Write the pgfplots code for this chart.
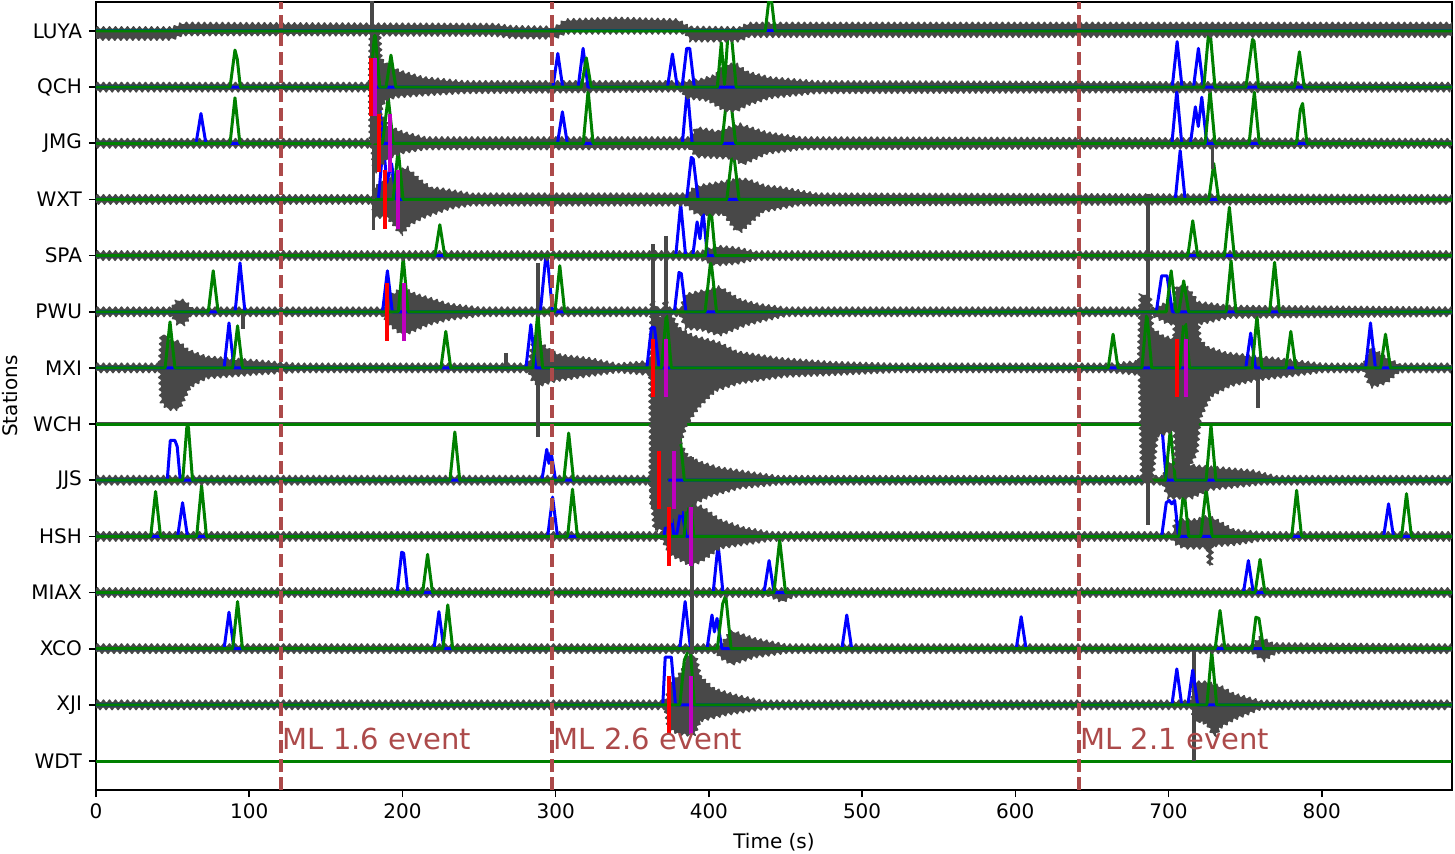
\documentclass[border=0pt]{standalone}
\usepackage{fontspec}
\setmainfont{DejaVu Sans}
\usepackage{pgfplots}
\pgfplotsset{compat=1.18}
\usetikzlibrary{decorations.pathmorphing}
\pgfplotsset{table/row sep=\\}
\definecolor{evt}{RGB}{172,74,74}
\definecolor{pgreen}{RGB}{0,128,0}
\definecolor{pmag}{RGB}{191,0,191}
\definecolor{tgray}{RGB}{72,72,72}

% one seismogram envelope (upper edge left to right, lower edge right to left), shifted to its station row;
% the zigzag outline gives the edges the ragged look of the raw samples
\newcommand\Trace[2]{\addplot[draw=none, fill=tgray,
  postaction={draw=tgray, line width=0.7pt, decorate, decoration={zigzag, segment length=3pt, amplitude=1pt}}]
  table[y expr=\thisrow{v}+#1] {t v\\ #2};}
% a single large excursion of a trace: time, highest and lowest value
\newcommand\Spike[3]{\addplot[tgray, line width=1.7pt] coordinates {(#1,#2) (#1,#3)};}
% P (blue) and S (green) phase probabilities of a station
\newcommand\Ppick[2]{\addplot[blue] table[y expr=\thisrow{v}+#1] {t v\\ #2};}
\newcommand\Spick[2]{\addplot[pgreen] table[y expr=\thisrow{v}+#1] {t v\\ #2};}

\begin{document}
\begin{tikzpicture}
\begin{axis}[
  scale only axis, width=678pt, height=394pt,
  xmin=0, xmax=885, ymin=-0.516, ymax=13.516,
  xtick={0,100,...,800},
  ytick={0,...,13},
  yticklabels={WDT,XJI,XCO,MIAX,HSH,JJS,WCH,MXI,PWU,SPA,WXT,JMG,QCH,LUYA},
  xlabel={Time (s)}, ylabel={Stations},
  tick align=outside, tick pos=left, major tick length=3.5pt,
  tick style={line width=0.8pt, black},
  axis line style={line width=0.8pt},
  /pgf/number format/assume math mode=true,
  ticklabel style={font=\fontsize{10}{12}\selectfont},
  label style={font=\fontsize{10}{12}\selectfont},
  every axis plot/.append style={line width=1.5pt, line join=round},
]
\coordinate (bl) at (rel axis cs:0,0);
\coordinate (tr) at (rel axis cs:1,1);

% ---- WDT (0)
\Ppick{0}{0 0\\ 885 0\\}
\Spick{0}{0 0\\ 885 0\\}

% ---- XJI (1)
\Trace{1}{0 0.05\\ 372 0.05\\ 375 0.33\\ 383 0.6\\ 386 0.86\\ 391 0.86\\ 394 0.5\\ 403 0.27\\ 418 0.15\\ 435 0.05\\ 715.5 0.05\\ 717.5 0.39\\ 725 0.39\\ 735 0.3\\ 742 0.18\\ 760 0.05\\ 885 0.05\\
885 -0.05\\ 760 -0.05\\ 742 -0.25\\ 733 -0.4\\ 730 -0.56\\ 726 -0.35\\ 721 -0.27\\ 717.5 -0.3\\ 715.5 -0.05\\ 435 -0.05\\ 412 -0.15\\ 394 -0.27\\ 390 -0.53\\ 380 -0.5\\ 374 -0.4\\ 372 -0.05\\ 0 -0.05\\}
\Spike{716.5}{1.98}{0.0}
\Ppick{1}{0 0\\ 369.9 0\\ 371.5 0.85\\ 375.5 0.85\\ 378.2 0\\ 702.2 0\\ 705.4 0.64\\ 708.6 0\\ 712.6 0\\ 715.8 0.62\\ 719 0\\ 885 0\\}
\Spick{1}{0 0\\ 381 0\\ 384 0.8\\ 386.4 0.95\\ 388 0.95\\ 390.5 0\\ 725 0\\ 728.2 0.95\\ 731.4 0\\ 885 0\\}

% ---- XCO (2)
\Trace{2}{0 0.05\\ 408 0.05\\ 412 0.2\\ 415 0.31\\ 420 0.25\\ 430 0.16\\ 450 0.05\\ 755 0.05\\ 760 0.19\\ 768 0.07\\ 885 0.05\\
885 -0.05\\ 770 -0.05\\ 762 -0.2\\ 755 -0.05\\ 450 -0.05\\ 430 -0.13\\ 415 -0.26\\ 408 -0.15\\ 405 -0.05\\ 0 -0.05\\}
\Ppick{2}{0 0\\ 83.6 0\\ 86.8 0.65\\ 90 0\\ 220.6 0\\ 223.8 0.66\\ 227 0\\ 381 0\\ 384.5 0.84\\ 388 0\\ 398.8 0\\ 402 0.6\\ 403.6 0.3\\ 405.3 0.54\\ 408.5 0\\ 486.8 0\\ 490 0.6\\ 493.2 0\\ 600.6 0\\ 603.8 0.57\\ 607 0\\ 885 0\\}
\Spick{2}{0 0\\ 89.2 0\\ 92.4 0.84\\ 95.6 0\\ 226.4 0\\ 229.6 0.78\\ 232.8 0\\ 405.5 0\\ 409 0.8\\ 411 0.95\\ 414.5 0\\ 730.4 0\\ 733.6 0.68\\ 736.8 0\\ 754.5 0\\ 757 0.56\\ 759 0.54\\ 762 0\\ 885 0\\}

% ---- MIAX (3)
\Trace{3}{0 0.05\\ 885 0.05\\ 885 -0.05\\ 455 -0.05\\ 448 -0.15\\ 440 -0.05\\ 0 -0.05\\}
\Ppick{3}{0 0\\ 196.5 0\\ 199.5 0.72\\ 200.8 0.7\\ 203.5 0\\ 402.8 0\\ 406 0.86\\ 409.2 0\\ 436 0\\ 439.3 0.57\\ 442.5 0\\ 748.9 0\\ 752.1 0.57\\ 755.3 0\\ 885 0\\}
\Spick{3}{0 0\\ 213.2 0\\ 216.4 0.68\\ 219.6 0\\ 442.5 0\\ 446.2 0.94\\ 450 0\\ 756.5 0\\ 759.7 0.59\\ 762.9 0\\ 885 0\\}

% ---- HSH (4)
\Trace{4}{0 0.05\\ 370 0.05\\ 372 0.46\\ 380 0.5\\ 388 0.55\\ 395 0.52\\ 407 0.28\\ 422 0.14\\ 440 0.05\\ 703 0.05\\ 705 0.28\\ 718 0.28\\ 725 0.34\\ 730 0.3\\ 742 0.1\\ 760 0.05\\ 885 0.05\\
885 -0.05\\ 760 -0.05\\ 742 -0.13\\ 728 -0.15\\ 727.5 -0.52\\ 726.5 -0.52\\ 726 -0.19\\ 710 -0.19\\ 705 -0.12\\ 703 -0.05\\ 440 -0.05\\ 407 -0.19\\ 395 -0.43\\ 388 -0.5\\ 375 -0.31\\ 370 -0.05\\ 0 -0.05\\}
\Spike{389}{5.41}{1.9}
\Ppick{4}{0 0\\ 53.3 0\\ 56.5 0.6\\ 59.7 0\\ 294.8 0\\ 298 0.7\\ 301.2 0\\ 370.8 0\\ 374 0.76\\ 377.2 0\\ 378.8 0\\ 382 0.52\\ 385.2 0\\ 695.5 0\\ 698.5 0.6\\ 700.5 0.64\\ 702 0.58\\ 704 0.64\\ 706.5 0\\ 840.4 0\\ 843.6 0.58\\ 846.8 0\\ 885 0\\}
\Spick{4}{0 0\\ 35.7 0\\ 38.9 0.8\\ 42.1 0\\ 65.7 0\\ 68.9 0.91\\ 72.1 0\\ 307.8 0\\ 311 0.84\\ 314.2 0\\ 383.8 0\\ 387 0.94\\ 390.2 0\\ 706.8 0\\ 710 0.85\\ 713.2 0\\ 721 0\\ 724.5 0.85\\ 728.5 0\\ 780.4 0\\ 783.6 0.82\\ 786.8 0\\ 852.1 0\\ 855.3 0.76\\ 858.5 0\\ 885 0\\}

% ---- JJS (5)
\Trace{5}{0 0.05\\ 362 0.05\\ 363 0.95\\ 375 0.95\\ 380 0.7\\ 386 0.41\\ 395 0.3\\ 406 0.21\\ 427 0.12\\ 445 0.05\\ 697 0.05\\ 700 0.3\\ 710 0.3\\ 717 0.24\\ 735 0.2\\ 755 0.15\\ 770 0.05\\ 885 0.05\\
885 -0.05\\ 760 -0.05\\ 726 -0.15\\ 715 -0.3\\ 700 -0.3\\ 697 -0.05\\ 445 -0.05\\ 420 -0.12\\ 400 -0.27\\ 390 -0.41\\ 380 -0.6\\ 371 -0.83\\ 365 -0.9\\ 363 -0.3\\ 362 -0.05\\ 0 -0.05\\}
\Ppick{5}{0 0\\ 46.5 0\\ 48.5 0.71\\ 51.5 0.71\\ 53 0.6\\ 55 0\\ 291 0\\ 294.2 0.55\\ 295.6 0.3\\ 297 0.5\\ 300 0\\ 364.7 0\\ 367.9 0.75\\ 371.1 0\\ 686.5 0\\ 690 0.86\\ 692.5 0.92\\ 694 0.88\\ 695.8 0.92\\ 698.5 0\\ 885 0\\}
\Spick{5}{0 0\\ 56.6 0\\ 59.3 0.95\\ 60.3 0.95\\ 63 0\\ 231 0\\ 234.2 0.86\\ 237.4 0\\ 305.3 0\\ 308.5 0.84\\ 311.7 0\\ 372.5 0\\ 376 0.8\\ 378 0.98\\ 380.5 0.98\\ 384 0\\ 698 0\\ 701.2 0.92\\ 704.4 0\\ 724.5 0\\ 727.7 0.98\\ 730.9 0\\ 885 0\\}

% ---- WCH (6), a flat trace
\addplot[black!70, line width=2pt] coordinates {(0,6) (885,6)};
\Ppick{6}{0 0\\ 885 0\\}
\Spick{6}{0 0\\ 885 0\\}

% ---- MXI (7)
\Trace{7}{0 0.05\\ 42 0.05\\ 43 0.56\\ 47 0.5\\ 54 0.45\\ 60 0.3\\ 72 0.18\\ 105 0.11\\ 130 0.05\\ 283 0.05\\ 285 0.39\\ 289 0.45\\ 296 0.3\\ 303 0.21\\ 322 0.15\\ 340 0.05\\ 362 0.1\\ 363 1.2\\ 369 0.8\\ 371.5 1.2\\ 374 1.0\\ 380 0.7\\ 390 0.55\\ 407 0.43\\ 418 0.27\\ 446 0.15\\ 480 0.08\\ 520 0.05\\ 662 0.05\\ 681 0.1\\ 682 1.3\\ 687.5 1.3\\ 689 0.7\\ 696 0.55\\ 704 0.5\\ 705 1.45\\ 712 1.42\\ 718 1.2\\ 720 0.5\\ 725 0.36\\ 737 0.25\\ 760 0.18\\ 780 0.12\\ 800 0.05\\ 828 0.05\\ 832 0.35\\ 840 0.2\\ 850 0.05\\ 885 0.05\\
885 -0.05\\ 850 -0.05\\ 842 -0.25\\ 832 -0.33\\ 828 -0.05\\ 800 -0.05\\ 780 -0.12\\ 757 -0.2\\ 740 -0.3\\ 727 -0.5\\ 720 -0.9\\ 718 -1.5\\ 712 -1.82\\ 705 -1.82\\ 704 -1.1\\ 692 -1.2\\ 689 -2.0\\ 683 -2.0\\ 681.5 -0.1\\ 662 -0.05\\ 520 -0.05\\ 480 -0.1\\ 450 -0.13\\ 420 -0.25\\ 404 -0.39\\ 393 -0.69\\ 385 -1.0\\ 375 -1.8\\ 370 -2.2\\ 364 -2.5\\ 362.8 -2.5\\ 362 -0.1\\ 340 -0.05\\ 322 -0.12\\ 300 -0.21\\ 289 -0.3\\ 285 -0.2\\ 283 -0.05\\ 130 -0.05\\ 105 -0.09\\ 72 -0.16\\ 61 -0.33\\ 54 -0.72\\ 47 -0.72\\ 43 -0.6\\ 42 -0.05\\ 0 -0.05\\}
\Spike{267.5}{7.27}{6.95}
\Spike{288.6}{8.87}{5.77}
\Spike{363.4}{9.2}{4.5}
\Spike{372}{9.35}{6.5}
\Spike{686.5}{10.1}{4.2}
\Spike{758.5}{7.0}{6.28}
\Ppick{7}{0 0\\ 83.6 0\\ 86.8 0.8\\ 90 0\\ 280.6 0\\ 283.8 0.77\\ 287 0\\ 359.5 0\\ 362.5 0.72\\ 364.5 0.72\\ 367.5 0\\ 750.4 0\\ 753.6 0.62\\ 756.8 0\\ 828.6 0\\ 831.8 0.8\\ 835 0\\ 885 0\\}
\Spick{7}{0 0\\ 45.1 0\\ 48.3 0.82\\ 51.5 0\\ 89.2 0\\ 92.4 0.75\\ 95.6 0\\ 225.1 0\\ 228.3 0.65\\ 231.5 0\\ 285.1 0\\ 288.3 0.98\\ 291.5 0\\ 369.1 0\\ 372.3 0.98\\ 375.5 0\\ 660.6 0\\ 663.8 0.6\\ 667 0\\ 682.6 0\\ 685.8 0.98\\ 689 0\\ 707.3 0\\ 710.5 0.98\\ 713.7 0\\ 754.5 0\\ 757.7 0.92\\ 760.9 0\\ 776.6 0\\ 779.8 0.65\\ 783 0\\ 838.4 0\\ 841.6 0.6\\ 844.8 0\\ 885 0\\}

% ---- PWU (8)
\Trace{8}{0 0.05\\ 50 0.05\\ 53 0.2\\ 58 0.18\\ 62 0.05\\ 188 0.05\\ 191 0.25\\ 200 0.41\\ 208 0.3\\ 217 0.23\\ 230 0.12\\ 250 0.05\\ 382 0.05\\ 385 0.29\\ 395 0.35\\ 407 0.43\\ 420 0.2\\ 433 0.11\\ 450 0.05\\ 690 0.05\\ 700 0.15\\ 720 0.15\\ 740 0.08\\ 885 0.05\\
885 -0.05\\ 740 -0.08\\ 720 -0.2\\ 700 -0.2\\ 690 -0.05\\ 450 -0.05\\ 434 -0.15\\ 424 -0.22\\ 407 -0.4\\ 395 -0.3\\ 385 -0.28\\ 382 -0.05\\ 250 -0.05\\ 230 -0.12\\ 217 -0.21\\ 205 -0.35\\ 200 -0.4\\ 191 -0.2\\ 188 -0.05\\ 62 -0.05\\ 57 -0.22\\ 53 -0.2\\ 50 -0.05\\ 0 -0.05\\}
\Spike{96}{8.05}{7.7}
\Ppick{8}{0 0\\ 90.8 0\\ 94 0.87\\ 97.2 0\\ 187 0\\ 190.2 0.73\\ 193.4 0\\ 290 0\\ 293.5 0.97\\ 294.5 0.97\\ 298 0\\ 377.5 0\\ 380.5 0.7\\ 382 0.68\\ 385 0\\ 692 0\\ 695.5 0.64\\ 699 0.64\\ 702.5 0\\ 885 0\\}
\Spick{8}{0 0\\ 73.3 0\\ 76.5 0.73\\ 79.7 0\\ 197.3 0\\ 200.5 0.97\\ 203.7 0\\ 299.5 0\\ 302.7 0.82\\ 305.9 0\\ 397.5 0\\ 401.3 0.94\\ 405 0\\ 698.5 0\\ 701.7 0.73\\ 704.9 0\\ 706.7 0\\ 709.9 0.55\\ 713.1 0\\ 737.6 0\\ 740.8 0.91\\ 744 0\\ 766 0\\ 769.2 0.88\\ 772.4 0\\ 885 0\\}

% ---- SPA (9)
\Trace{9}{0 0.05\\ 395 0.05\\ 405 0.15\\ 418 0.12\\ 430 0.05\\ 885 0.05\\ 885 -0.05\\ 430 -0.05\\ 418 -0.12\\ 405 -0.15\\ 395 -0.05\\ 0 -0.05\\}
\Ppick{9}{0 0\\ 378.4 0\\ 381.6 0.92\\ 384.8 0\\ 389.5 0\\ 392.3 0.6\\ 394.2 0.3\\ 396.2 0.8\\ 399 0\\ 885 0\\}
\Spick{9}{0 0\\ 221.2 0\\ 224.4 0.55\\ 227.6 0\\ 397.8 0\\ 401 0.95\\ 404.2 0\\ 712.6 0\\ 715.8 0.62\\ 719 0\\ 736.5 0\\ 739.7 0.86\\ 742.9 0\\ 885 0\\}

% ---- WXT (10)
\Trace{10}{0 0.05\\ 181 0.05\\ 182 0.2\\ 188 0.3\\ 197 0.5\\ 203 0.55\\ 211 0.34\\ 218 0.2\\ 228 0.16\\ 245 0.08\\ 385 0.08\\ 392 0.22\\ 410 0.3\\ 418 0.34\\ 425 0.34\\ 437 0.22\\ 446 0.2\\ 470 0.08\\ 885 0.05\\
885 -0.05\\ 470 -0.08\\ 458 -0.08\\ 435 -0.2\\ 421 -0.55\\ 418 -0.55\\ 410 -0.25\\ 392 -0.25\\ 385 -0.08\\ 245 -0.08\\ 231 -0.14\\ 213 -0.31\\ 204 -0.45\\ 199 -0.62\\ 195 -0.45\\ 190 -0.3\\ 182 -0.3\\ 181 -0.05\\ 0 -0.05\\}
\Spike{181}{10.9}{9.45}
\Ppick{10}{0 0\\ 184.3 0\\ 187.5 1.0\\ 189.8 0.3\\ 192.9 0.64\\ 196.1 0\\ 385.5 0\\ 388.5 0.75\\ 389.8 0.72\\ 393 0\\ 704.4 0\\ 707.6 0.87\\ 710.8 0\\ 885 0\\}
\Spick{10}{0 0\\ 194 0\\ 197.2 0.9\\ 200.4 0\\ 411.7 0\\ 415.7 0.93\\ 419.7 0\\ 726.3 0\\ 729.5 0.64\\ 732.7 0\\ 885 0\\}

% ---- JMG (11)
\Trace{11}{0 0.05\\ 180.5 0.05\\ 182 0.6\\ 186 0.5\\ 190 0.3\\ 200 0.18\\ 215 0.08\\ 388 0.08\\ 392 0.26\\ 405 0.2\\ 420 0.32\\ 438 0.17\\ 460 0.08\\ 885 0.05\\
885 -0.05\\ 460 -0.08\\ 438 -0.16\\ 422 -0.36\\ 416 -0.25\\ 392 -0.22\\ 388 -0.08\\ 215 -0.08\\ 200 -0.15\\ 190 -0.25\\ 182 -0.5\\ 180.5 -0.05\\ 0 -0.05\\}
\Spike{181}{12.0}{10.0}
\Spike{728.5}{11.05}{10.55}
\Ppick{11}{0 0\\ 65.3 0\\ 68.5 0.53\\ 71.7 0\\ 181 0\\ 184.2 0.92\\ 187.4 0\\ 301.2 0\\ 304.4 0.56\\ 307.6 0\\ 382.7 0\\ 385.9 0.98\\ 389.1 0\\ 702.2 0\\ 705.4 0.94\\ 708.6 0\\ 714.3 0\\ 717.5 0.65\\ 719.4 0.3\\ 721.7 0.82\\ 724.9 0\\ 885 0\\}
\Spick{11}{0 0\\ 87.5 0\\ 90.7 0.81\\ 93.9 0\\ 187 0\\ 190.7 0.82\\ 194 0\\ 318 0\\ 321.2 0.94\\ 324.4 0\\ 408.5 0\\ 412 0.9\\ 413.5 0.94\\ 417.5 0\\ 723.9 0\\ 727.1 0.94\\ 730.3 0\\ 752.6 0\\ 756 0.91\\ 759.2 0\\ 783.5 0\\ 786 0.6\\ 787.5 0.71\\ 790.3 0\\ 885 0\\}

% ---- QCH (12)
\Trace{12}{0 0.05\\ 179 0.05\\ 179.6 0.96\\ 184.5 0.96\\ 185.5 0.5\\ 188 0.42\\ 198 0.27\\ 214 0.15\\ 240 0.08\\ 383 0.08\\ 395 0.12\\ 405 0.2\\ 410 0.39\\ 418 0.39\\ 425 0.25\\ 440 0.15\\ 470 0.08\\ 885 0.05\\
885 -0.05\\ 470 -0.08\\ 440 -0.17\\ 425 -0.3\\ 418 -0.41\\ 410 -0.4\\ 400 -0.22\\ 385 -0.17\\ 383 -0.05\\ 240 -0.08\\ 214 -0.12\\ 195 -0.16\\ 188 -0.23\\ 185.5 -0.4\\ 184.5 -1.0\\ 179.6 -1.0\\ 179 -0.05\\ 0 -0.05\\}
\Spike{180.2}{13.7}{11.0}
\Ppick{12}{0 0\\ 298.2 0\\ 301.4 0.6\\ 304.6 0\\ 314.7 0\\ 317.9 0.69\\ 321.1 0\\ 373 0\\ 376.2 0.59\\ 379.4 0\\ 382.5 0\\ 385.5 0.69\\ 387.5 0.69\\ 390.5 0\\ 702.4 0\\ 705.6 0.81\\ 708.8 0\\ 716.3 0\\ 719.5 0.69\\ 722.7 0\\ 885 0\\}
\Spick{12}{0 0\\ 87.5 0\\ 90.7 0.66\\ 92.2 0.5\\ 94.2 0\\ 178.8 0\\ 182 1.0\\ 185.2 0\\ 189.3 0\\ 192.5 0.57\\ 195.7 0\\ 316.8 0\\ 320 0.52\\ 323.2 0\\ 405.5 0\\ 408.1 0.79\\ 410.2 0.05\\ 412.3 0.88\\ 414.8 0.9\\ 417.8 0\\ 723 0\\ 726 0.92\\ 727.5 0.88\\ 730.3 0\\ 750.5 0\\ 754.8 0.85\\ 755.8 0.82\\ 758.8 0\\ 782.2 0\\ 785.4 0.63\\ 788.6 0\\ 885 0\\}

% ---- LUYA (13)
\Trace{13}{0 0.04\\ 50 0.04\\ 56 0.12\\ 140 0.11\\ 260 0.1\\ 272 0.06\\ 300 0.05\\ 306 0.18\\ 340 0.21\\ 380 0.18\\ 387 0.05\\ 420 0.04\\ 426 0.12\\ 885 0.12\\
885 -0.08\\ 426 -0.08\\ 420 -0.16\\ 388 -0.16\\ 385 -0.02\\ 306 -0.02\\ 300 -0.11\\ 272 -0.1\\ 260 -0.06\\ 140 -0.05\\ 56 -0.05\\ 50 -0.13\\ 0 -0.13\\}
\Ppick{13}{0 0\\ 885 0\\}
\Spick{13}{0 0\\ 436.8 0\\ 440 0.75\\ 443.2 0\\ 885 0\\}

% ---- P (red) and S (magenta) arrival marks
\addplot[red, line width=2pt] coordinates {(179.8,11.48) (179.8,12.52)};
\addplot[red, line width=2pt] coordinates {(184.8,10.48) (184.8,11.52)};
\addplot[red, line width=2pt] coordinates {(188.3,9.48) (188.3,10.52)};
\addplot[red, line width=2pt] coordinates {(190.2,7.48) (190.2,8.52)};
\addplot[red, line width=2pt] coordinates {(363.6,6.48) (363.6,7.52)};
\addplot[red, line width=2pt] coordinates {(367.3,4.48) (367.3,5.52)};
\addplot[red, line width=2pt] coordinates {(373.8,3.48) (373.8,4.52)};
\addplot[red, line width=2pt] coordinates {(374,0.48) (374,1.52)};
\addplot[red, line width=2pt] coordinates {(705.4,6.48) (705.4,7.52)};
\addplot[pmag, line width=2pt] coordinates {(182,11.48) (182,12.52)};
\addplot[pmag, line width=2pt] coordinates {(191.8,10.48) (191.8,11.52)};
\addplot[pmag, line width=2pt] coordinates {(197.4,9.48) (197.4,10.52)};
\addplot[pmag, line width=2pt] coordinates {(200.9,7.48) (200.9,8.52)};
\addplot[pmag, line width=2pt] coordinates {(372.1,6.48) (372.1,7.52)};
\addplot[pmag, line width=2pt] coordinates {(377.5,4.48) (377.5,5.52)};
\addplot[pmag, line width=2pt] coordinates {(388.6,3.48) (388.6,4.52)};
\addplot[pmag, line width=2pt] coordinates {(388.6,0.48) (388.6,1.52)};
\addplot[pmag, line width=2pt] coordinates {(711.5,6.48) (711.5,7.52)};

% ---- catalogue events
\addplot[evt, line width=1.75pt, dash pattern=on 6.5pt off 2.8pt] coordinates {(120.7,-0.52) (120.7,13.52)};
\addplot[evt, line width=1.75pt, dash pattern=on 6.5pt off 2.8pt] coordinates {(297.6,-0.52) (297.6,13.52)};
\addplot[evt, line width=1.75pt, dash pattern=on 6.5pt off 2.8pt] coordinates {(641.4,-0.52) (641.4,13.52)};
\node[anchor=base west, inner sep=0pt, text=evt, font=\fontsize{14.5}{17}\selectfont] at (axis cs:121.6,0.2) {ML 1.6 event};
\node[anchor=base west, inner sep=0pt, text=evt, font=\fontsize{14.5}{17}\selectfont] at (axis cs:298.5,0.2) {ML 2.6 event};
\node[anchor=base west, inner sep=0pt, text=evt, font=\fontsize{14.5}{17}\selectfont] at (axis cs:642.3,0.2) {ML 2.1 event};
\end{axis}
\pgfresetboundingbox
\path[use as bounding box] ([shift={(-48pt,-31.5pt)}]bl) rectangle ([shift={(1.5pt,1pt)}]tr);
\end{tikzpicture}
\end{document}
